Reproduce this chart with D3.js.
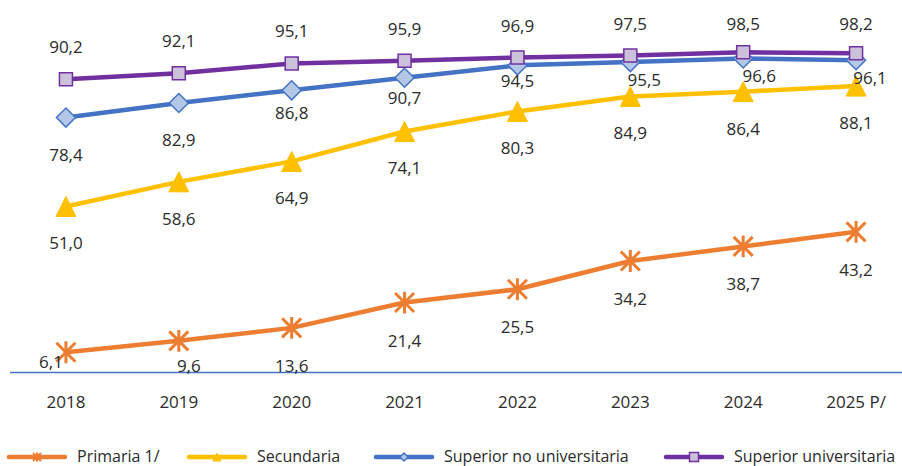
<!DOCTYPE html>
<html lang="es">
<head>
    <meta charset="UTF-8">
    <title>Cobertura por nivel educativo</title>
    <style>
        body { margin: 0; background: #fff; }
        svg text { font-family: "Open Sans", sans-serif; fill: #2b2b2b; }
    </style>
</head>
<body>
    <svg id="chart" width="902" height="466"></svg>
    <script src="https://d3js.org/d3.v7.min.js"></script>
    <script>
        // categories
        var years = ["2018", "2019", "2020", "2021", "2022", "2023", "2024", "2025 P/"];

        // series values
        var primaria = [6.1, 9.6, 13.6, 21.4, 25.5, 34.2, 38.7, 43.2];
        var secundaria = [51.0, 58.6, 64.9, 74.1, 80.3, 84.9, 86.4, 88.1];
        var superiorNoUniv = [78.4, 82.9, 86.8, 90.7, 94.5, 95.5, 96.6, 96.1];
        var superiorUniv = [90.2, 92.1, 95.1, 95.9, 96.9, 97.5, 98.5, 98.2];

        var seriesNames = ["Primaria 1/", "Secundaria", "Superior no universitaria", "Superior universitaria"];

        var svg = d3.select("#chart");

        var x = d3.scaleBand().domain(years).range([9.5, 912.5]);
        var y = d3.scaleLinear().domain([0, 100]).range([372, 47.5]);
        var cx = function (d) { return x(d) + x.bandwidth() / 2; };

        var fmt = function (v) { return d3.format(".1f")(v).replace(".", ","); };

        // label placement (px offsets from the point), hand tuned like the original
        var series = [
            { name: seriesNames[0], values: primaria, color: "#ED7D31", marker: "star",
              lx: [-15, 10, 0, 0, 0, 0, 0, 0], ly: function (py) { return Math.min(py + 38, 366) - (py + 38 > 380 ? 4 : 0); } },
            { name: seriesNames[1], values: secundaria, color: "#FFC000", marker: "triangle",
              lx: [0, 0, 0, 0, 0, 0, 0, 0], ly: function (py) { return py + 37; } },
            { name: seriesNames[2], values: superiorNoUniv, color: "#4472C4", marker: "diamond", fill: "#B4C7E7",
              lx: [0, 0, 0, 0, 0, 14, 16, 14], dy: [37, 37, 23, 20, 16, 18, 18, 18] },
            { name: seriesNames[3], values: superiorUniv, color: "#7030A0", marker: "square", fill: "#CCC1DA",
              lx: [0, 0, 0, 0, 0, 0, 0, 0], ly: function (py) { return Math.max(py - 32, 24); } }
        ];

        function markerPath(type, s) {
            if (type === "square") return "M" + (-s) + "," + (-s) + "H" + s + "V" + s + "H" + (-s) + "Z";
            if (type === "diamond") return "M0," + (-s) + "L" + s + ",0L0," + s + "L" + (-s) + ",0Z";
            if (type === "triangle") return "M0," + (-s) + "L" + s + "," + s + "L" + (-s) + "," + s + "Z";
            // star: x plus vertical bar
            return "M" + (-s) + "," + (-s) + "L" + s + "," + s + "M" + (-s) + "," + s + "L" + s + "," + (-s) +
                   "M0," + (-s * 1.15) + "V" + (s * 1.15);
        }

        function drawMarker(g, type, color, fill, s) {
            var p = g.append("path").attr("d", markerPath(type, s));
            if (type === "star") {
                p.attr("fill", "none").attr("stroke", color).attr("stroke-width", s > 6 ? 3 : 2);
            } else if (type === "triangle") {
                p.attr("fill", color).attr("stroke", color).attr("stroke-width", 1);
            } else {
                p.attr("fill", fill).attr("stroke", color).attr("stroke-width", 1.5);
            }
        }

        // x axis
        var xAxis = svg.append("g").attr("transform", "translate(0,372.5)")
            .call(d3.axisBottom(x).tickSize(0).tickPadding(23));
        xAxis.select(".domain").attr("stroke", "#4472C4").attr("stroke-width", 1.6)
            .attr("d", "M10,0H902");
        xAxis.selectAll("text").attr("font-size", 17).style("fill", "#2b2b2b")
            .style("font-family", "'Open Sans', sans-serif");

        var line = d3.line().x(function (d) { return cx(d.year); }).y(function (d) { return y(d.v); });

        series.forEach(function (s) {
            var pts = s.values.map(function (v, i) { return { year: years[i], v: v }; });
            var g = svg.append("g");
            g.append("path").datum(pts).attr("d", line)
                .attr("fill", "none").attr("stroke", s.color).attr("stroke-width", 4.5)
                .attr("stroke-linejoin", "round").attr("stroke-linecap", "round");
            pts.forEach(function (p) {
                var mg = g.append("g").attr("transform", "translate(" + cx(p.year) + "," + y(p.v) + ")");
                var size = s.marker === "square" ? 6.5 : s.marker === "diamond" ? 9.5 : s.marker === "triangle" ? 10 : 9.5;
                drawMarker(mg, s.marker, s.color, s.fill, size);
            });
        });

        // data labels on top
        series.forEach(function (s) {
            s.values.forEach(function (v, i) {
                var py = y(v);
                var ty = s.dy ? py + s.dy[i] : s.ly(py);
                svg.append("text")
                    .attr("x", cx(years[i]) + s.lx[i])
                    .attr("y", ty)
                    .attr("dy", "0.35em")
                    .attr("text-anchor", "middle")
                    .attr("font-size", 17)
                    .text(fmt(v));
            });
        });

        // legend
        var legendX = [9, 189, 376, 666];
        var leg = svg.append("g").attr("transform", "translate(0,457)");
        series.forEach(function (s, i) {
            var g = leg.append("g").attr("transform", "translate(" + legendX[i] + ",0)");
            g.append("line").attr("x1", 0).attr("x2", 56).attr("y1", 0).attr("y2", 0)
                .attr("stroke", s.color).attr("stroke-width", 4.5).attr("stroke-linecap", "round");
            var mg = g.append("g").attr("transform", "translate(28,0)");
            drawMarker(mg, s.marker, s.color, s.fill, s.marker === "square" ? 4.5 : 4);
            g.append("text").attr("x", 68).attr("y", 0).attr("dy", "0.32em")
                .attr("font-size", 16).text(s.name);
        });
    </script>
</body>
</html>
